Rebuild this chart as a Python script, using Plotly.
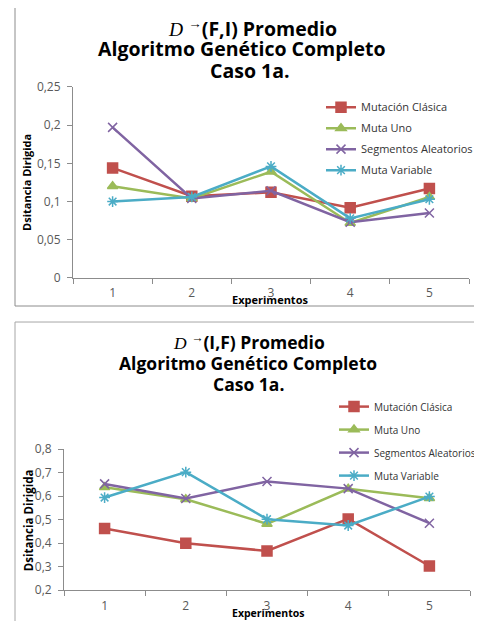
import plotly.graph_objects as go

W, H = 482, 621

experimentos = ["1", "2", "3", "4", "5"]
series_names = ["Mutación Clásica", "Muta Uno", "Segmentos Aleatorios", "Muta Variable"]

fi_clasica = [0.144, 0.107, 0.112, 0.092, 0.117]
fi_uno = [0.120, 0.104, 0.139, 0.072, 0.106]
fi_segmentos = [0.197, 0.104, 0.114, 0.073, 0.085]
fi_variable = [0.100, 0.106, 0.146, 0.078, 0.103]

if_clasica = [0.462, 0.400, 0.367, 0.503, 0.303]
if_uno = [0.638, 0.587, 0.482, 0.631, 0.591]
if_segmentos = [0.652, 0.590, 0.662, 0.632, 0.485]
if_variable = [0.594, 0.702, 0.502, 0.475, 0.598]

colors = ["#C0504D", "#9BBB59", "#8064A2", "#4BACC6"]
symbols = ["square", "triangle-up", "x-thin-open", "asterisk-open"]
msizes = [10, 9, 9, 9]

FONT = "Open Sans"


def px(x):
    return (x - 8) / W


def fy(t):
    return (t - 9.4) / 0.972 - 8


def py(t):
    return 1 - fy(t) / H


def pyf(f):
    return 1 - f / H


fig = go.Figure()

chart1 = [fi_clasica, fi_uno, fi_segmentos, fi_variable]
chart2 = [if_clasica, if_uno, if_segmentos, if_variable]

for i, (name, vals) in enumerate(zip(series_names, chart1)):
    fig.add_trace(go.Scatter(
        x=experimentos, y=vals, name=name, mode="lines+markers",
        line=dict(color=colors[i], width=2.5),
        marker=dict(symbol=symbols[i], size=msizes[i], color=colors[i],
                    line=dict(color=colors[i], width=1.5)),
        xaxis="x", yaxis="y", legend="legend", legendgroup="a%d" % i,
    ))

for i, (name, vals) in enumerate(zip(series_names, chart2)):
    fig.add_trace(go.Scatter(
        x=experimentos, y=vals, name=name, mode="lines+markers",
        line=dict(color=colors[i], width=2.5),
        marker=dict(symbol=symbols[i], size=msizes[i], color=colors[i],
                    line=dict(color=colors[i], width=1.5)),
        xaxis="x2", yaxis="y2", legend="legend2", legendgroup="b%d" % i,
    ))

axis_common = dict(showgrid=False, zeroline=False, showline=True,
                   linecolor="#8c8c8c", linewidth=1, ticks="outside",
                   ticklen=5, tickcolor="#8c8c8c", ticklabelstandoff=4,
                   tickfont=dict(family=FONT, size=12, color="#595959"))

fig.update_layout(
    width=W, height=H, margin=dict(l=0, r=0, t=0, b=0),
    paper_bgcolor="white", plot_bgcolor="white",
    separators=",.",
    showlegend=True,
    xaxis=dict(domain=[px(73), px(469)], anchor="y", type="category",
               range=[-0.5, 4.5], tickson="boundaries", **axis_common),
    yaxis=dict(domain=[py(278), py(87)], anchor="x", range=[0, 0.25],
               dtick=0.05, **axis_common),
    xaxis2=dict(domain=[px(64), px(470)], anchor="y2", type="category",
                range=[-0.5, 4.5], tickson="boundaries", **axis_common),
    yaxis2=dict(domain=[py(590), py(449)], anchor="x2", range=[0.2, 0.8],
                dtick=0.1, **axis_common),
    legend=dict(x=px(321), y=pyf(fy(106) - 13.6), xanchor="left", yanchor="top",
                font=dict(family=FONT, size=11, color="#333333"),
                bgcolor="rgba(0,0,0,0)", tracegroupgap=2,
                traceorder="grouped", itemwidth=30),
    legend2=dict(x=px(334), y=pyf(fy(407) - 15.4), xanchor="left", yanchor="top",
                 font=dict(family=FONT, size=10, color="#333333"),
                 bgcolor="rgba(0,0,0,0)", tracegroupgap=4,
                 traceorder="grouped", itemwidth=30),
)

shapes = [
    dict(type="path", xref="paper", yref="paper",
         path="M %f,%f L %f,%f L %f,%f" % (px(15), py(5), px(15), py(306), px(500), py(306)),
         line=dict(color="#8c8c8c", width=1)),
    dict(type="path", xref="paper", yref="paper",
         path="M %f,%f L %f,%f L %f,%f" % (px(15), py(640), px(15), py(322), px(500), py(322)),
         line=dict(color="#a6a6a6", width=1)),
]
fig.update_layout(shapes=shapes)

DSPAN = "<span style=\"font-family:'Liberation Serif';font-weight:normal\"><i>D</i></span>"


def note(text, x, y, size, angle=0):
    return dict(text=text, x=px(x), y=py(y), xref="paper", yref="paper",
                showarrow=False, textangle=angle, xanchor="center",
                yanchor="middle", font=dict(family=FONT, size=size, color="black"))


ann = []
t1 = [DSPAN + " <sup>→</sup><b>(F,I) Promedio</b>",
      "<b>Algoritmo Genético Completo</b>", "<b>Caso 1a.</b>"]
for t, yy, xx in zip(t1, [28, 49, 71], [252, 242, 250]):
    ann.append(note(t, xx, yy, 19.5))
t2 = [DSPAN + " <sup>→</sup><b>(I,F) Promedio</b>",
      "<b>Algoritmo Genético Completo</b>", "<b>Caso 1a.</b>"]
for t, yy, xx in zip(t2, [341, 363, 384], [249, 248, 248]):
    ann.append(note(t, xx, yy, 17.5))

ann.append(note("<b>Dsitancia Dirigida</b>", 27, 183, 11, -90))
ann.append(note("<b>Dsitancia Dirigida</b>", 28, 520, 11.5, -90))
ann.append(note("<b>Experimentos</b>", 270, 299, 11))
ann.append(note("<b>Experimentos</b>", 268, 613, 10.5))
fig.update_layout(annotations=ann)

fig.write_html("out.html")
